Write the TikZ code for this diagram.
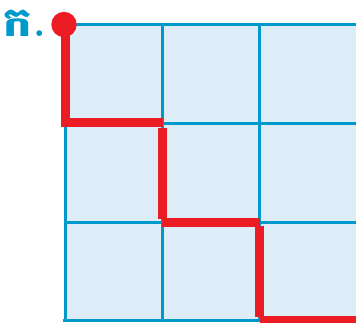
\documentclass[tikz,border=0pt]{standalone}
\usepackage{fontspec}
\usetikzlibrary{positioning}
\newfontfamily\khmerfont[Script=Khmer,FakeStretch=1.12]{Battambang}
\definecolor{gridblue}{RGB}{0, 153, 204}
\definecolor{cellblue}{RGB}{220, 237, 247}
\definecolor{pathred}{RGB}{237, 28, 36}
\tikzset{gridline/.style={gridblue, line width=3pt},
  pathline/.style={pathred, line width=9pt}}

\begin{document}
\begin{tikzpicture}[x=1pt, y=-1pt]
    \useasboundingbox (0,0) rectangle (356,323);
    \clip (0,0) rectangle (356,323);
    \fill[cellblue] (65,25) rectangle (356,320.5);

    % grid
    \foreach \gx in {65, 162.3, 259.5} {
        \draw[gridline] (\gx,25) -- (\gx,320.5);
    }
    \foreach \gy in {25, 123.3, 222.3} {
        \draw[gridline] (65,\gy) -- (356,\gy);
    }
    \draw[gridline] (63,320.5) -- (261,320.5);

    % path
    \draw[pathline] (65.5,24) -- (65.5,123);
    \draw[pathline] (61,123) -- (163,123);
    \draw[pathline] (162.5,128) -- (162.5,219);
    \draw[pathline] (162,222.3) -- (260,222.3);
    \draw[pathline] (259.5,226) -- (259.5,317);
    \draw[pathline] (260,320.5) -- (356,320.5);
    \fill[pathred] (64,24.5) circle (12.7);

    \node[anchor=base west, inner sep=0pt, text=gridblue, font=\bfseries\fontsize{40}{40}\selectfont] (label) at (3,37) {{\khmerfont ក}\hspace{2pt}.};
\end{tikzpicture}
\end{document}
